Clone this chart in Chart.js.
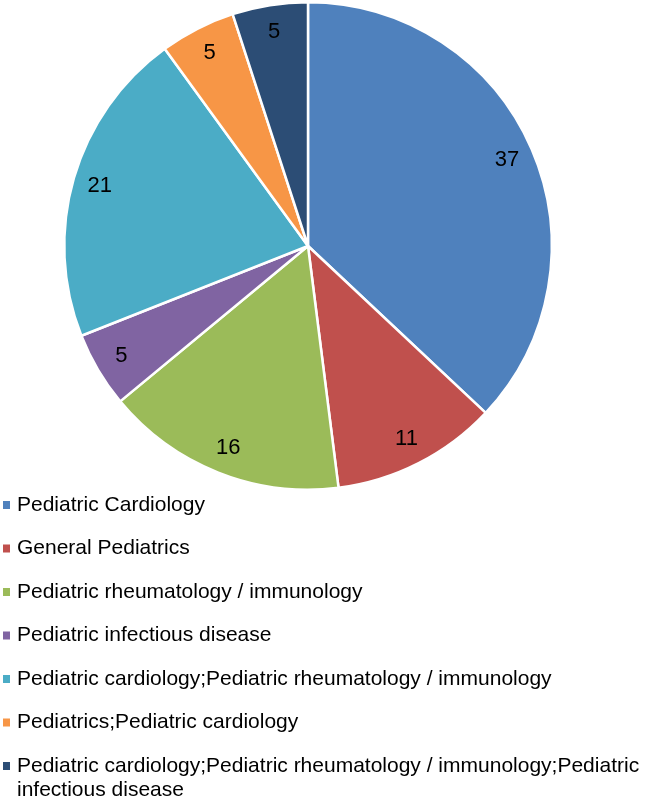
<!DOCTYPE html>
<html>
<head>
<meta charset="utf-8">
<script src="https://cdn.jsdelivr.net/npm/chart.js@4"></script>
<style>
  html, body { margin: 0; padding: 0; background: #fff; }
  #wrap { width: 645px; height: 802px; position: relative; }
</style>
</head>
<body>
<div id="wrap"><canvas id="pie"></canvas></div>
<script>
const categories = [
  'Pediatric Cardiology',
  'General Pediatrics',
  'Pediatric rheumatology / immunology',
  'Pediatric infectious disease',
  'Pediatric cardiology;Pediatric rheumatology / immunology',
  'Pediatrics;Pediatric cardiology',
  'Pediatric cardiology;Pediatric rheumatology / immunology;Pediatric infectious disease'
];
const counts = [37, 11, 16, 5, 21, 5, 5];
const colors = ['#4F81BD', '#C0504D', '#9BBB59', '#8064A2', '#4BACC6', '#F79646', '#2C4D75'];

const FONT = '"Liberation Sans", Arial, sans-serif';

// value labels inside slices
const sliceLabels = {
  id: 'sliceLabels',
  afterDatasetsDraw(chart) {
    const ctx = chart.ctx;
    const meta = chart.getDatasetMeta(0);
    ctx.save();
    ctx.font = '22px ' + FONT;
    ctx.fillStyle = '#000';
    ctx.textAlign = 'center';
    ctx.textBaseline = 'middle';
    meta.data.forEach((arc, i) => {
      const p = arc.getProps(['x', 'y', 'startAngle', 'endAngle', 'outerRadius'], true);
      const mid = (p.startAngle + p.endAngle) / 2;
      const r = p.outerRadius * 0.89;
      ctx.fillText(String(chart.data.datasets[0].data[i]), p.x + Math.cos(mid) * r, p.y + Math.sin(mid) * r);
    });
    ctx.restore();
  }
};

// legend below the pie, one entry per line, wrapping long entries
const listLegend = {
  id: 'listLegend',
  afterDraw(chart) {
    const ctx = chart.ctx;
    const labels = chart.data.labels;
    const bg = chart.data.datasets[0].backgroundColor;
    const maxW = 645 - 17 - 2;
    ctx.save();
    ctx.font = '21px ' + FONT;
    ctx.textBaseline = 'middle';
    let y = 505;
    labels.forEach((lab, i) => {
      ctx.fillStyle = bg[i];
      ctx.fillRect(3, y - 4, 7, 8);
      ctx.fillStyle = '#000';
      const words = lab.split(' ');
      let line = '';
      const lines = [];
      words.forEach(w => {
        const t = line ? line + ' ' + w : w;
        if (ctx.measureText(t).width > maxW && line) { lines.push(line); line = w; }
        else line = t;
      });
      lines.push(line);
      lines.forEach((l, k) => ctx.fillText(l, 17, y + k * 24));
      y += 43.5;
    });
    ctx.restore();
  }
};

new Chart(document.getElementById('pie'), {
  type: 'pie',
  data: {
    labels: categories,
    datasets: [{
      data: counts,
      backgroundColor: colors,
      borderColor: '#fff',
      borderWidth: 2.5
    }]
  },
  options: {
    responsive: true,
    maintainAspectRatio: false,
    animation: false,
    layout: { padding: { left: 63, right: 92, top: 1, bottom: 311 } },
    plugins: {
      legend: { display: false },
      tooltip: { enabled: false }
    }
  },
  plugins: [sliceLabels, listLegend]
});
</script>
</body>
</html>
